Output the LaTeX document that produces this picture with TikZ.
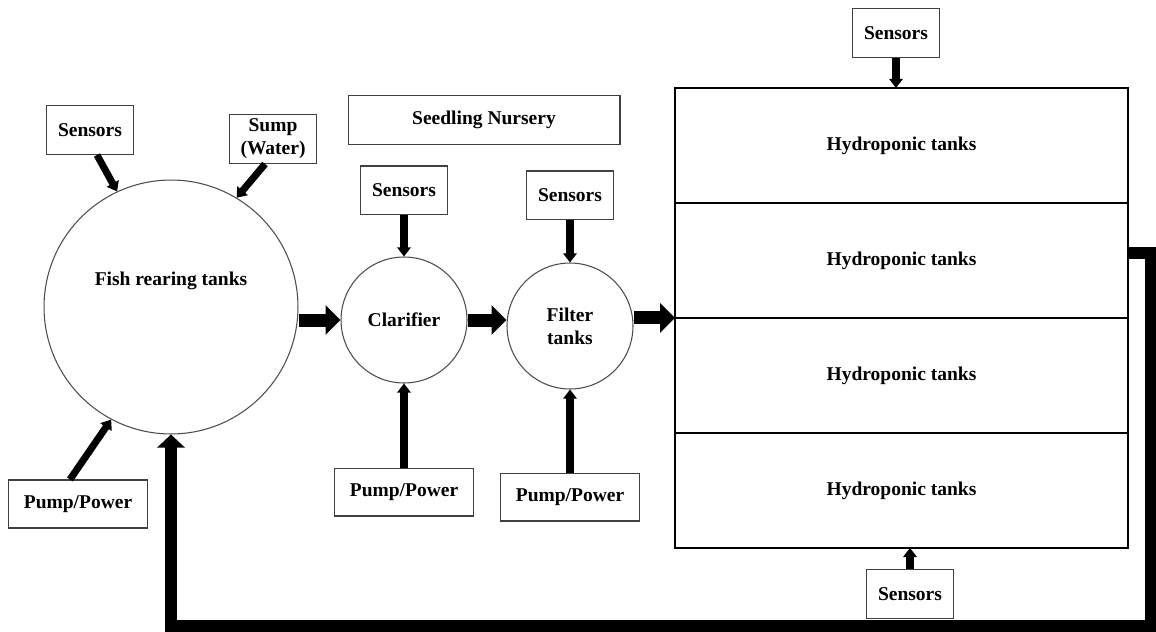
\documentclass[tikz,border=0pt]{standalone}
\usepackage{fontspec}
\setmainfont{Liberation Serif}
\usetikzlibrary{%
  arrows.meta,% Triangle tips
  positioning% wg. " of "
}

\begin{document}
\begin{tikzpicture}[
    x=0.02cm,y=-0.02cm,
    font=\fontsize{11.1}{13}\selectfont\bfseries,
    box/.style={rectangle,draw=black!75,line width=0.6pt,align=center,inner sep=0pt},
    sensbox/.style={box,minimum width=1.74cm,minimum height=0.98cm},
    pumpbox/.style={box,minimum width=2.78cm,minimum height=0.96cm},
    tank/.style={circle,draw=black!70,line width=0.6pt,align=center,inner sep=0pt},
    hydro/.style={rectangle,draw,line width=1.5pt,outer sep=0pt,
        minimum width=9.06cm,minimum height=2.3cm},
    feed/.style={-{Triangle[length=5.2pt,width=7.6pt]},line width=4pt},
    flow/.style={-{Triangle[length=8.5pt,width=16.4pt]},line width=7.4pt},
    backflow/.style={-{Triangle[length=7.4pt,width=15.3pt]},line width=6.8pt},
    node distance=0.8cm
  ]
    \useasboundingbox (0,0) rectangle (1156,632);

    \node[tank,minimum size=5.08cm,
        label={[yshift=0.52cm]center:Fish rearing tanks}] (fish) at (171,307) {};
    \node[tank,minimum size=2.52cm] (clarifier) at (404,320) {Clarifier};
    \node[tank,minimum size=2.52cm] (filter)    at (570,326) {Filter\\tanks};

    \node[hydro] (hydro1) at (901.5,145.5) {Hydroponic tanks};
    \node[hydro,below=0pt of hydro1] (hydro2) {Hydroponic tanks};
    \node[hydro,below=0pt of hydro2] (hydro3) {Hydroponic tanks};
    \node[hydro,below=0pt of hydro3] (hydro4) {Hydroponic tanks};

    \node[sensbox] (sensFish) at (90,130)  {Sensors};
    \node[sensbox] (sump)     at (273,139) {Sump\\(Water)};
    \node[box,minimum width=5.44cm,minimum height=0.98cm] (nursery) at (484,120) {Seedling Nursery};
    \node[sensbox,above=0.82cm of clarifier] (sensClar) {Sensors};
    \node[sensbox,above=0.84cm of filter]    (sensFilt) {Sensors};
    \node[sensbox,above=0.6cm of hydro1,xshift=-0.11cm] (sensTop) {Sensors};
    \node[sensbox,below=0.42cm of hydro4,xshift=0.17cm] (sensBot) {Sensors};
    \node[pumpbox] (pumpFish) at (78,504) {Pump/Power};
    \node[pumpbox,below=1.68cm of clarifier] (pumpClar) {Pump/Power};
    \node[pumpbox,below=1.66cm of filter]    (pumpFilt) {Pump/Power};

    \draw[feed] ([xshift=0.14cm]sensFish.south) -- (fish.115);
    \draw[feed] ([xshift=-0.16cm]sump.south) -- (fish.59);
    \draw[feed] ([xshift=-0.16cm]pumpFish.north) -- (fish.242);
    \draw[feed] (sensClar) -- (clarifier);
    \draw[feed] (sensFilt) -- (filter);
    \draw[feed] (pumpClar) -- (clarifier);
    \draw[feed] (pumpFilt) -- (filter);
    \draw[feed] (sensTop) -- (sensTop |- hydro1.north);
    \draw[feed] (sensBot) -- (sensBot |- hydro4.south);

    \draw[flow] (clarifier.west -| fish.east) -- (clarifier.west);
    \draw[flow] (clarifier.east) -- (clarifier.east -| filter.west);
    \draw[flow] (hydro2.south west -| filter.east) -- (hydro2.south west);

    \coordinate (retTop) at (1151,253);
    \coordinate (retBot) at (1151,626);
    \draw[backflow] (hydro2.east |- retTop) -- (retTop) -- (retBot)
        -- (retBot -| fish.south) -- (fish.south);
\end{tikzpicture}
\end{document}
